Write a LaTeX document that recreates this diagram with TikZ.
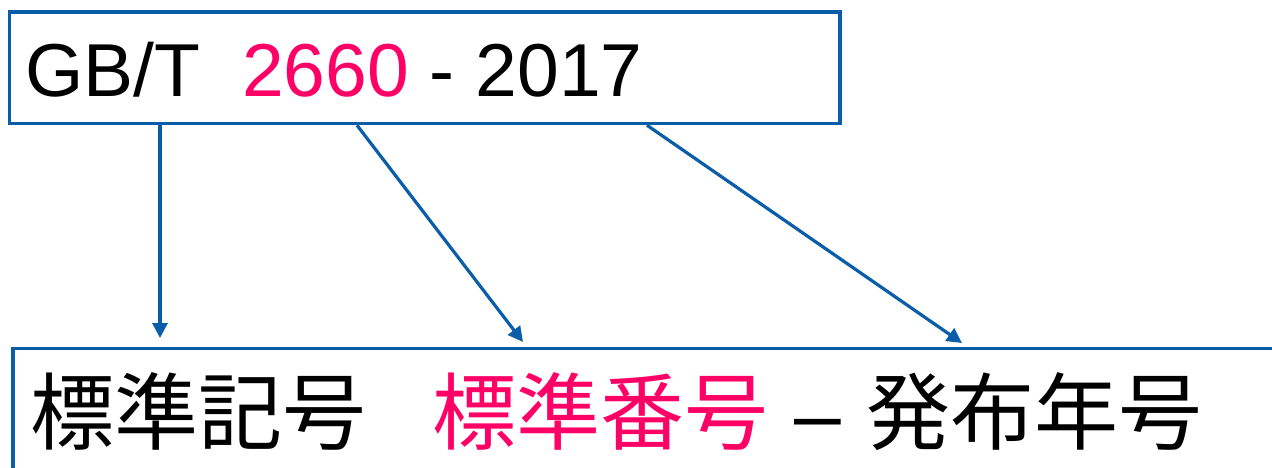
\documentclass[tikz,border=0pt]{standalone}
\usepackage{fontspec}
\setmainfont{Liberation Sans}
\newfontfamily\jpfont{Noto Sans CJK JP}
\usetikzlibrary{arrows.meta}
\definecolor{lineblue}{HTML}{0A5DA8}
\definecolor{pk}{HTML}{FF0066}
\tikzset{
  boxstyle/.style={draw=lineblue, line width=3.5pt, rectangle, inner sep=0pt},
  toptext/.style={inner sep=0pt, anchor=base west, font=\fontsize{75}{90}\selectfont},
  jptext/.style={inner sep=0pt, anchor=base west, font=\fontsize{84}{100}\selectfont\jpfont},
  dashtext/.style={inner sep=0pt, anchor=base west, font=\fontsize{84}{100}\selectfont},
  arr/.style={draw=lineblue, line width=3.2pt, -{Triangle[length=15pt,width=15pt]}}
}
\begin{document}
\begin{tikzpicture}[x=1pt,y=-1pt]
\useasboundingbox (0,0) rectangle (1272,468);
\clip (0,0) rectangle (1272,468);
\node[boxstyle, minimum width=830.5pt, minimum height=111.5pt] (top) at (424.75,67.75) {};
\node[boxstyle, minimum width=1280pt, minimum height=150pt] (bot) at (653,423.5) {};
\node[toptext] (code) at (25.4,96.5) {GB/T\ \ {\color{pk}2660} - 2017};
\node[jptext] (j1) at (30,443) {標準記号};
\node[jptext, text=pk] (j2) at (432,443) {標準番号};
\node[dashtext] (jd) at (794,443) {–};
\node[jptext] (j3) at (866,443) {発布年号};
\coordinate (e1) at (160,338);
\coordinate (s2) at (357,0);
\coordinate (e2) at (523,342);
\coordinate (s3) at (647,0);
\coordinate (e3) at (962,343);
\draw[arr] (top.south -| e1) -- (e1);
\draw[arr] (top.south -| s2) -- (e2);
\draw[arr] (top.south -| s3) -- (e3);
\end{tikzpicture}
\end{document}
